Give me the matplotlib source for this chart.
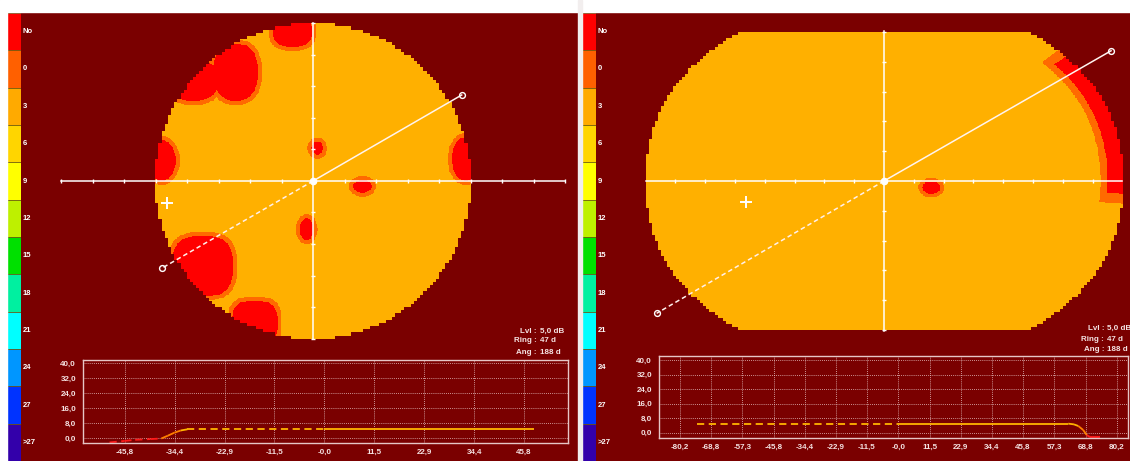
import numpy as np
import matplotlib
matplotlib.use('Agg')
import matplotlib.pyplot as plt
from matplotlib.patches import Rectangle

# ---------------- data ----------------
scale_labels = ['No', '0', '3', '6', '9', '12', '15', '18', '21', '24', '27', '>27']
scale_colors = ['#FF0000', '#FF6000', '#FFAA00', '#FFD500', '#FFFF00', '#BEF000',
                '#00E000', '#00F0A0', '#00FFFF', '#0096FF', '#0033FF', '#3300AA']

# left map: defects (deg)
L_bx = [-6.5, -24.5, -38.0, -48.0, 48.5, 1.4, 15.7, -2.0, -35.0, -18.5]
L_by = [47.5, 34.5, 32.0, 6.5, 7.0, 10.4, -1.7, -15.3, -27.0, -45.0]
L_rx = [6.3, 7.0, 8.0, 4.5, 4.5, 1.8, 3.0, 2.1, 9.5, 7.2]
L_ry = [5.0, 9.0, 6.5, 6.5, 7.0, 2.1, 2.0, 3.5, 9.5, 7.0]
L_bp = [2.5, 2.5, 2.5, 2.0, 2.0, 2.0, 2.0, 2.0, 3.0, 3.0]
L_radius = 50.0

# right map: defects
R_bx = [15.7]
R_by = [-2.2]
R_rx = [3.1]
R_ry = [2.0]
R_bp = [2.0]
R_band_theta = [-3.0, 34.5]
R_band_u = [0.935, 0.905]
R_shape = [80.0, 60.0, 2.2, 50.0]  # a, b, exponent, |y| clip

# meridian lines
L_end_solid = (47.2, 27.3)
L_end_dash = (-48.0, -27.7)
R_end_solid = (76.2, 43.7)
R_end_dash = (-76.3, -44.4)
plus_pos = (-46.3, -7.0)

# profiles
L_prof_x = [-49.4, -46.0, -43.5, -40.0, -37.5, -36.0, -34.5, -33.0, -31.5, 0.0, 48.1]
L_prof_y = [-2.4, -1.6, -1.0, -0.6, -0.3, 1.2, 2.8, 4.0, 4.6, 4.6, 4.6]
R_prof_x = [-73.8, 0.0, 62.4, 64.5, 66.1, 67.9, 69.2, 70.4, 74.1]
R_prof_y = [5.0, 5.0, 5.0, 4.6, 3.7, 1.5, -1.3, -2.4, -2.4]
L_xticks = [-45.8, -34.4, -22.9, -11.5, 0.0, 11.5, 22.9, 34.4, 45.8]
L_xlabels = ['-45,8', '-34,4', '-22,9', '-11,5', '-0,0', '11,5', '22,9', '34,4', '45,8']
R_xticks = [-80.2, -68.8, -57.3, -45.8, -34.4, -22.9, -11.5, 0.0, 11.5, 22.9, 34.4, 45.8, 57.3, 68.8, 80.2]
R_xlabels = ['-80,2', '-68,8', '-57,3', '-45,8', '-34,4', '-22,9', '-11,5', '-0,0',
             '11,5', '22,9', '34,4', '45,8', '57,3', '68,8', '80,2']
yticks = [0, 8, 16, 24, 32, 40]
ylabels = ['0,0', '8,0', '16,0', '24,0', '32,0', '40,0']
info_keys = ['Lvl :', 'Ring :', 'Ang :']
info_vals = ['5,0 dB', '47 d', '188 d']

# ---------------- style ----------------
W, H = 1130, 461
BG = '#7A0000'
FILL = '#FFB000'
RIMC = '#FF6A00'
REDC = '#FF0000'
TXT = '#F4E2E2'
FONT = 'Liberation Sans'
plt.rcParams['font.family'] = [FONT, 'DejaVu Sans']

fig = plt.figure(figsize=(W / 100, H / 100), dpi=100)
fig.patch.set_facecolor(BG)


def rect(x0, y0, x1, y1):
    return [x0 / W, 1 - y1 / H, (x1 - x0) / W, (y1 - y0) / H]


def to_rgba(c):
    return np.array(matplotlib.colors.to_rgba(c))


def build_field(xs, ys, inside_fn, bx, by, rx, ry, bp, band=None, rim=1.3):
    X, Y = np.meshgrid(xs, ys)
    Xc = np.floor(X) + 0.5
    Yc = np.floor(Y) + 0.5
    inside = inside_fn(Xc, Yc)
    red = np.zeros_like(inside)
    rimm = np.zeros_like(inside)
    for cx, cy, a, b, p in zip(bx, by, rx, ry, bp):
        red |= (np.abs((X - cx) / a) ** p + np.abs((Y - cy) / b) ** p) <= 1
        rimm |= (np.abs((X - cx) / (a + rim)) ** p + np.abs((Y - cy) / (b + rim)) ** p) <= 1
    if band is not None:
        u, th, (t0, t1), (ur, uo) = band(X, Y)
        red |= (u > ur) & (th >= t0) & (th <= t1)
        rimm |= (u > uo) & (th >= t0 - 2.5) & (th <= t1 + 2.5)
    img = np.zeros(X.shape + (4,))
    img[inside] = to_rgba(FILL)
    img[inside & rimm] = to_rgba(RIMC)
    img[inside & red] = to_rgba(REDC)
    return img


def draw_colorbar(x0):
    cax = fig.add_axes(rect(x0, 13, x0 + 14, 461))
    n = len(scale_colors)
    for i, c in enumerate(scale_colors):
        cax.bar(0, 1, bottom=n - 1 - i, width=1, align='edge', color=c,
                edgecolor='#6B5A10', linewidth=0.5)
    cax.set_xlim(0, 1)
    cax.set_ylim(0, n)
    cax.axis('off')
    seg = (461 - 13) / n
    for i, lab in enumerate(scale_labels):
        yc = 13 + seg * (i + 0.5)
        fig.text((x0 + 15.5) / W, 1 - yc / H, lab, color='white', fontsize=5.5,
                 fontweight='bold', va='center', ha='left')


def draw_axes_lines(ax, hx, vy, hticks, vticks, end_s, end_d):
    ax.plot([-hx, hx], [0, 0], color='white', lw=1.1, zorder=3)
    ax.plot([0, 0], [-vy, vy], color='white', lw=1.1, zorder=3)
    ax.plot(hticks, np.zeros(len(hticks)), ls='none', marker='|', ms=3.5, mew=1.0,
            color='white', zorder=3)
    ax.plot(np.zeros(len(vticks)), vticks, ls='none', marker='_', ms=3.5, mew=1.0,
            color='white', zorder=3)
    ax.plot([0, end_s[0]], [0, end_s[1]], color='#FFF4F0', lw=1.1, zorder=4)
    ax.plot([0, end_d[0]], [0, end_d[1]], color='#FFF0EC', lw=1.1, ls=(0, (3, 2)), zorder=4)
    for e in (end_s, end_d):
        ax.plot(e[0], e[1], 'o', ms=4.2, mfc='none', mec='white', mew=1.0, zorder=5)
    ax.plot(0, 0, 'o', ms=4.5, color='white', zorder=5)
    ax.plot(plus_pos[0], plus_pos[1], marker='+', ms=8, mew=1.4, color='white', zorder=5)


def draw_profile(ax, px, py, xticks, xlabels, xlim, ylim, xpad, ypad):
    ax.set_facecolor(BG)
    for i in range(len(px) - 1):
        ym = 0.5 * (py[i] + py[i + 1])
        if ym < 0.0:
            c = '#FF1A1A'
        elif ym < 4.0:
            c = '#FF8000'
        else:
            c = '#FFB400'
        ls = (0, (4, 2.5)) if px[i + 1] <= 0 else '-'
        ax.plot(px[i:i + 2], py[i:i + 2], color=c, lw=1.3, ls=ls, solid_capstyle='butt')
    ax.set_xlim(*xlim)
    ax.set_ylim(*ylim)
    ax.set_xticks(xticks)
    ax.set_xticklabels(xlabels)
    ax.set_yticks(yticks)
    ax.set_yticklabels(ylabels)
    ax.tick_params(length=0, colors=TXT, labelsize=5.8)
    ax.tick_params(axis='x', pad=xpad)
    ax.tick_params(axis='y', pad=ypad)
    for lab in ax.get_xticklabels() + ax.get_yticklabels():
        lab.set_fontweight('bold')
    ax.grid(True, color='#E8C4C4', lw=0.6, ls=(0, (1, 1.5)))
    for s in ax.spines.values():
        s.set_color('#E6C6C6')
        s.set_linewidth(1.0)


def draw_info(x_colon, ys):
    for k, v, y in zip(info_keys, info_vals, ys):
        fig.text(x_colon / W, 1 - y / H, k, color=TXT, fontsize=5.8, fontweight='bold',
                 ha='right', va='center')
        fig.text((x_colon + 3) / W, 1 - y / H, v, color=TXT, fontsize=5.8, fontweight='bold',
                 ha='left', va='center')


# ---------------- left panel ----------------
s = 3.15
cxp, cyp = 313.0, 181.0
axL = fig.add_axes(rect(22, 12, 578, 461))
axL.set_xlim((22 - cxp) / s, (578 - cxp) / s)
axL.set_ylim((cyp - 461) / s, (cyp - 12) / s)
axL.axis('off')
step = 0.25
xs = np.arange(-52 + step / 2, 52, step)
ys = np.arange(-52 + step / 2, 52, step)
imgL = build_field(xs, ys, lambda X, Y: X ** 2 + Y ** 2 <= L_radius ** 2,
                   L_bx, L_by, L_rx, L_ry, L_bp)
axL.imshow(imgL, extent=[-52, 52, -52, 52], origin='lower', interpolation='nearest',
           aspect='auto', zorder=1)
draw_axes_lines(axL, 80, 50.3, [v for v in range(-80, 81, 10) if v != 0],
                [v for v in range(-50, 51, 10) if v != 0], L_end_solid, L_end_dash)

# ---------------- right panel ----------------
s2 = 2.98
cxr = 884.0
axR = fig.add_axes(rect(597, 12, 1130, 461))
axR.set_xlim((597 - cxr) / s2, (1130 - cxr) / s2)
axR.set_ylim((cyp - 461) / s2, (cyp - 12) / s2)
axR.axis('off')
a_, b_, n_, yc_ = R_shape


def inside_R(X, Y):
    return ((np.abs(X / a_) ** n_ + np.abs(Y / b_) ** n_) <= 1) & (np.abs(Y) <= yc_)


def band_R(X, Y):
    u = (np.abs(X / a_) ** n_ + np.abs(Y / b_) ** n_) ** (1 / n_)
    th = np.degrees(np.arctan2(Y, X))
    return u, th, R_band_theta, R_band_u


xs2 = np.arange(-82 + step / 2, 82, step)
imgR = build_field(xs2, ys, inside_R, R_bx, R_by, R_rx, R_ry, R_bp, band=band_R)
axR.imshow(imgR, extent=[-82, 82, -52, 52], origin='lower', interpolation='nearest',
           aspect='auto', zorder=1)
draw_axes_lines(axR, 79.7, 50.3, [v for v in range(-70, 71, 10) if v != 0],
                [v for v in range(-50, 51, 10) if v != 0], R_end_solid, R_end_dash)

# ---------------- colorbars ----------------
draw_colorbar(7)
draw_colorbar(582)

# ---------------- profiles ----------------
pL = fig.add_axes(rect(83, 360, 568, 443))
draw_profile(pL, L_prof_x, L_prof_y, L_xticks, L_xlabels, (-55.5, 56.0), (-2.7, 41.6), 4.0, 5.0)
pR = fig.add_axes(rect(659, 356, 1128, 438))
draw_profile(pR, R_prof_x, R_prof_y, R_xticks, R_xlabels, (-87.9, 84.35), (-2.9, 42.2), 4.5, 5.0)

# ---------------- info texts ----------------
draw_info(537, [331, 341, 352])
draw_info(1104, [328, 339, 349])

# ---------------- white borders ----------------
fig.add_artist(Rectangle((0, 1 - 12 / H), 1, 12 / H, transform=fig.transFigure,
                         color='white', zorder=10))
fig.add_artist(Rectangle((0, 0), 7 / W, 1, transform=fig.transFigure, color='white', zorder=10))
fig.add_artist(Rectangle((578 / W, 0), 4 / W, 1, transform=fig.transFigure,
                         color='#F2EEEE', zorder=10))

fig.savefig('out.png', dpi=100, facecolor=fig.get_facecolor())
